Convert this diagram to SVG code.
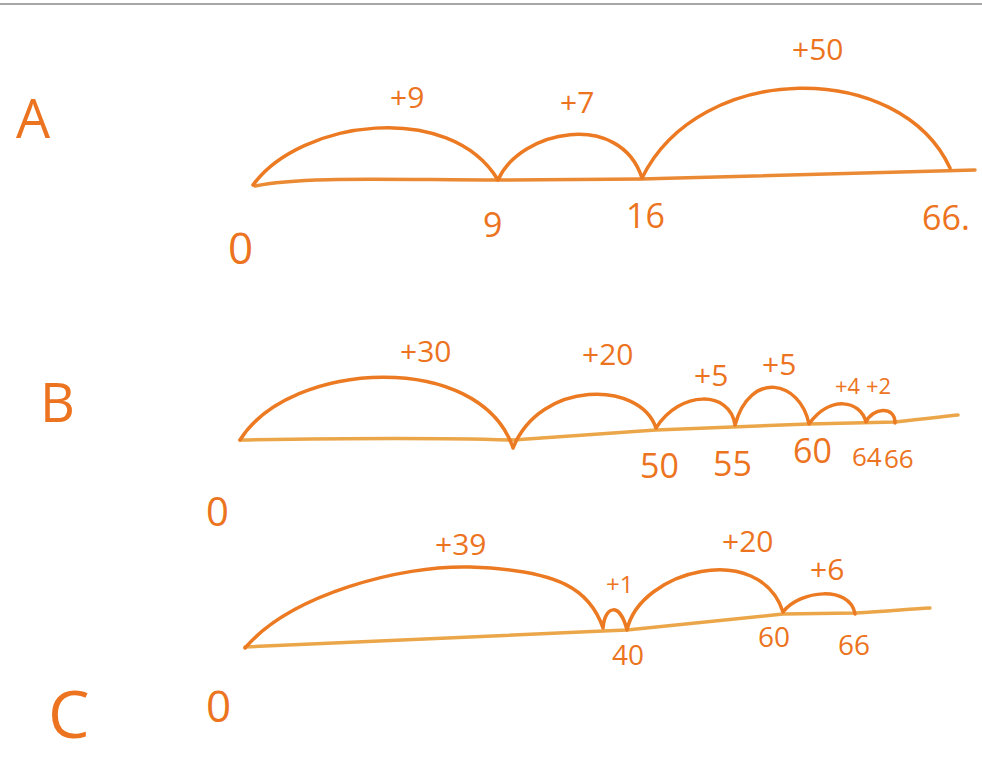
<svg xmlns="http://www.w3.org/2000/svg" width="982" height="765" viewBox="0 0 982 765">
<style>
.line{fill:none;stroke:#EBA64A;stroke-width:3.5;stroke-linecap:round}
.arc{fill:none;stroke:#EC7A22;stroke-width:3.5;stroke-linecap:round;stroke-linejoin:round}
.lbl{fill:#EC7320;font-family:"Open Sans","DejaVu Sans",sans-serif;font-weight:400}
.num{font-size:34px}
.big{font-size:54px}
.jump{font-size:30px}
</style>
<rect x="0" y="0" width="982" height="765" fill="#ffffff"/>
<line x1="0" y1="4" x2="982" y2="4" stroke="#8a8a8a" stroke-width="1.5"/>
<g id="A">
<path class="line" d="M255,186 C300,176 400,180 498,180 L642,179 C760,176 880,172 975,170" style="stroke:#EB8A35"/>
<path class="arc" d="M253,185 C300,120 450,100 498,180 C520,130 620,110 642,178 C700,60 900,60 950,168"/>
<text class="lbl big" x="16" y="138">A</text>
<text class="lbl jump" x="390" y="108">+9</text>
<text class="lbl jump" x="560" y="113">+7</text>
<text class="lbl jump" x="792" y="60">+50</text>
<text class="lbl" style="font-size:44px" x="228" y="264">0</text>
<text class="lbl num" x="483" y="237">9</text>
<text class="lbl num" x="626" y="228">16</text>
<text class="lbl num" x="922" y="230">66.</text>
</g>
<g id="B">
<path class="line" d="M240,440 C350,438 450,438 513,440 L656,430 L809,424 L895,422 C920,419 940,417 958,415"/>
<path class="arc" d="M240,440 C290,360 480,350 513,448 C540,380 640,380 656,428 C680,390 730,390 735,425 C750,370 800,380 809,424 C830,395 860,400 866,422 C872,408 895,405 895,423"/>
<text class="lbl big" x="40" y="422">B</text>
<text class="lbl jump" x="400" y="362">+30</text>
<text class="lbl jump" x="582" y="365">+20</text>
<text class="lbl jump" x="694" y="386">+5</text>
<text class="lbl jump" x="762" y="375">+5</text>
<text class="lbl" style="font-size:22px" x="835" y="394">+4</text>
<text class="lbl" style="font-size:22px" x="866" y="394">+2</text>
<text class="lbl" style="font-size:40px" x="206" y="526">0</text>
<text class="lbl num" x="640" y="478">50</text>
<text class="lbl num" x="713" y="476">55</text>
<text class="lbl num" x="793" y="463">60</text>
<text class="lbl" style="font-size:26px" x="852" y="466">64</text>
<text class="lbl" style="font-size:26px" x="884" y="468">66</text>
</g>
<g id="C">
<path class="line" d="M245,647 L603,631 L627,630 L783,614 L855,613 C890,611 910,609 930,608"/>
<path class="arc" d="M245,648 C290,595 400,565 470,567 C560,570 590,590 603,628 C605,605 620,602 627,630 C640,570 760,540 783,612 C800,590 850,585 855,614"/>
<text class="lbl" style="font-size:66px" x="48" y="738">C</text>
<text class="lbl jump" x="435" y="555">+39</text>
<text class="lbl" style="font-size:24px" x="606" y="593">+1</text>
<text class="lbl jump" x="722" y="552">+20</text>
<text class="lbl jump" x="810" y="580">+6</text>
<text class="lbl" style="font-size:44px" x="206" y="722">0</text>
<text class="lbl" style="font-size:28px" x="612" y="665">40</text>
<text class="lbl" style="font-size:28px" x="758" y="647">60</text>
<text class="lbl" style="font-size:28px" x="838" y="655">66</text>
</g>
</svg>
